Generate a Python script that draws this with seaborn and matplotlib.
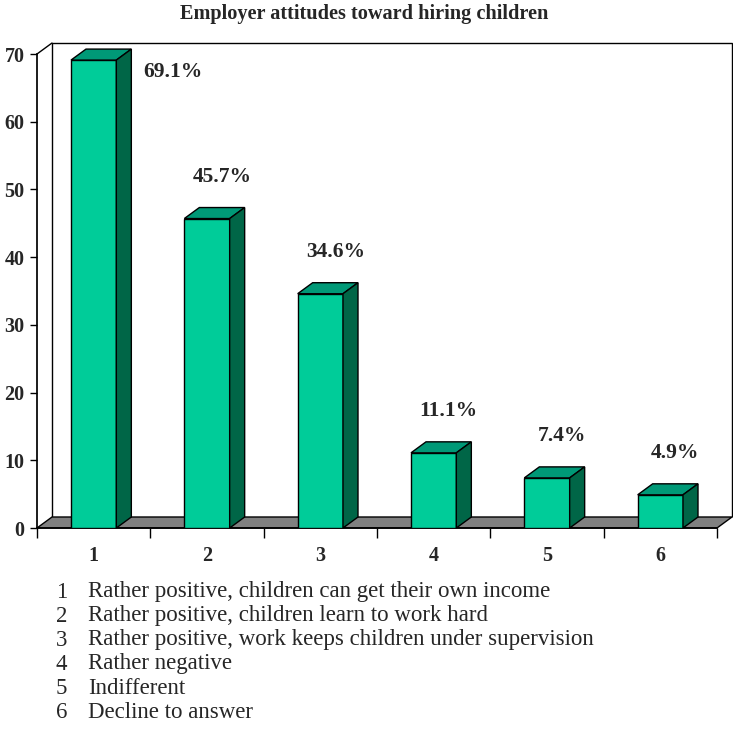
import matplotlib
matplotlib.use("Agg")
import matplotlib.pyplot as plt
import seaborn as sns
import pandas as pd
from matplotlib.patches import Polygon

categories = ["1", "2", "3", "4", "5", "6"]
values = [69.1, 45.7, 34.6, 11.1, 7.4, 4.9]
value_labels = ["69.1%", "45.7%", "34.6%", "11.1%", "7.4%", "4.9%"]
legend_items = [
    "Rather positive, children can get their own income",
    "Rather positive, children learn to work hard",
    "Rather positive, work keeps children under supervision",
    "Rather negative",
    "Indifferent",
    "Decline to answer",
]
yticks = [0, 10, 20, 30, 40, 50, 60, 70]
title = "Employer attitudes toward hiring children"

FRONT = "#00CC99"
TOP = "#009977"
SIDE = "#006647"
FLOOR = "#808080"
SERIF = ["Liberation Serif", "DejaVu Serif"]

sns.set_theme(style="white")
plt.rcParams["font.family"] = SERIF

W = H = 733
fig = plt.figure(figsize=(W / 100, H / 100), dpi=100)
left_px, right_px, top_px, bot_px = 37, 717, 54, 528
ax = fig.add_axes([left_px / W, 1 - bot_px / H, (right_px - left_px) / W, (bot_px - top_px) / H])

df = pd.DataFrame({"cat": categories, "val": values})
sns.barplot(data=df, x="cat", y="val", ax=ax, width=0.4, color=FRONT,
            saturation=1, edgecolor="black", linewidth=1, zorder=5)
bars = list(ax.patches)
ax.set_xlim(-0.5, len(categories) - 0.5)
ax.set_ylim(0, 70)

# depth offsets (pixels -> data)
DX_PX, DY_PX = 15, 11
px_per_x = (right_px - left_px) / len(categories)
px_per_y = (bot_px - top_px) / 70
ddx = DX_PX / px_per_x
ddy = DY_PX / px_per_y
x0, x1 = ax.get_xlim()
ymax = 70

# back wall
wall = Polygon([(x0 + ddx, ddy), (x0 + ddx, ymax + ddy), (x1 + ddx, ymax + ddy), (x1 + ddx, ddy)],
               closed=False, fill=False, edgecolor="black", linewidth=1, clip_on=False, zorder=1)
ax.add_patch(wall)
ax.plot([x0, x0 + ddx], [ymax, ymax + ddy], color="black", lw=1, clip_on=False, zorder=1)
# floor
floor = Polygon([(x0, 0), (x1, 0), (x1 + ddx, ddy), (x0 + ddx, ddy)], closed=True,
                facecolor=FLOOR, edgecolor="black", linewidth=1, clip_on=False, zorder=2)
ax.add_patch(floor)

# 3D faces for each bar
for p in bars:
    bx, bw, bh = p.get_x(), p.get_width(), p.get_height()
    top = Polygon([(bx, bh), (bx + bw, bh), (bx + bw + ddx, bh + ddy), (bx + ddx, bh + ddy)],
                  closed=True, facecolor=TOP, edgecolor="black", linewidth=1, clip_on=False, zorder=6)
    side = Polygon([(bx + bw, 0), (bx + bw + ddx, ddy), (bx + bw + ddx, bh + ddy), (bx + bw, bh)],
                   closed=True, facecolor=SIDE, edgecolor="black", linewidth=1, clip_on=False, zorder=6)
    ax.add_patch(top)
    ax.add_patch(side)

# value labels
PT = 72 / 100
for i, (v, lab) in enumerate(zip(values, value_labels)):
    if v > 62:
        off = (79 * PT, -12 * PT)
    else:
        off = (15 * PT, 42 * PT)
    ax.annotate(lab, (i, v), xytext=off, textcoords="offset points",
                ha="center", va="center", fontsize=15.5, fontweight="bold", zorder=10)

# axes styling
for s in ["top", "right"]:
    ax.spines[s].set_visible(False)
ax.spines["left"].set_color("black")
ax.spines["bottom"].set_color("black")
ax.spines["left"].set_zorder(3)
ax.spines["bottom"].set_zorder(3)
ax.set_yticks(yticks)
ax.set_yticklabels([str(t) for t in yticks], fontsize=14.5, fontweight="bold")
ax.set_xticks(range(len(categories)))
ax.set_xticklabels(categories, fontsize=14.5, fontweight="bold")
ax.set_xticks([x0 + k for k in range(len(categories) + 1)], minor=True)
ax.tick_params(axis="y", which="major", left=True, length=5, width=1, color="black", pad=4)
ax.tick_params(axis="x", which="major", bottom=False, length=0, pad=13)
ax.tick_params(axis="x", which="minor", bottom=True, length=7, width=1, color="black")
ax.set_xlabel("")
ax.set_ylabel("")
ax.grid(False)
ax.patch.set_alpha(0)

fig.text(364 / W, 1 - 14 / H, title, ha="center", va="center", fontsize=14.6, fontweight="bold")

for k, item in enumerate(legend_items):
    y = 1 - (592 + 24 * k) / H
    fig.text(67 / W, y, str(k + 1), ha="right", va="center", fontsize=16.5)
    fig.text(88 / W, y, item, ha="left", va="center", fontsize=16.5)

fig.savefig("out.png", dpi=100)
